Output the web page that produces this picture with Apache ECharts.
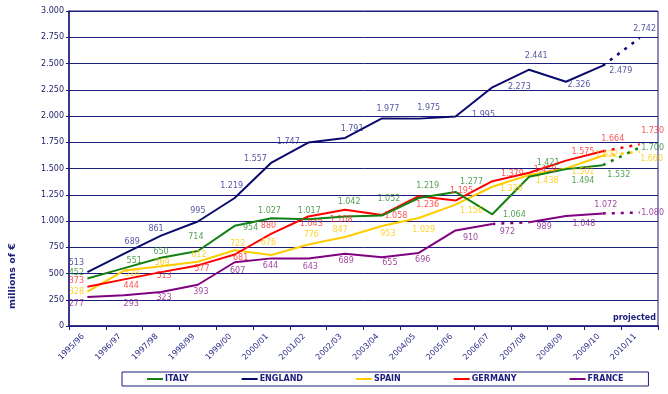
<!DOCTYPE html>
<html>
<head>
<meta charset="utf-8">
<script src="https://cdn.jsdelivr.net/npm/echarts@6/dist/echarts.min.js"></script>
<style>
html,body{margin:0;padding:0;background:#fff;}
#c{width:668px;height:394px;}
</style>
</head>
<body>
<div id="c"></div>
<script>
// ---- data ----
const categories = ['1995/96','1996/97','1997/98','1998/99','1999/00','2000/01','2001/02','2002/03','2003/04','2004/05','2005/06','2006/07','2007/08','2008/09','2009/10','2010/11'];
const italy   = [452,551,650,714,954,1027,1017,1042,1052,1219,1277,1064,1421,1494,1532,1700];
const england = [513,689,861,995,1219,1557,1747,1791,1977,1975,1995,2273,2441,2326,2479,2742];
const spain   = [328,528,569,612,722,676,776,847,953,1029,1156,1326,1438,1501,1622,1660];
const germany = [373,444,513,577,681,880,1043,1108,1058,1236,1195,1379,1459,1575,1664,1730];
const france  = [277,293,323,393,607,644,643,689,655,696,910,972,989,1048,1072,1080];
const seriesNames = ['ITALY','ENGLAND','SPAIN','GERMANY','FRANCE'];
// segments (start index) drawn dashed
const dashedStarts = {ITALY:[14], ENGLAND:[14], SPAIN:[14], GERMANY:[14], FRANCE:[11,14]};

// ---- styling ----
const NAVY = '#1c1c7c';
const lineColors = {ITALY:'#138013', ENGLAND:'#0a0a6e', SPAIN:'#ffcc00', GERMANY:'#ff0000', FRANCE:'#800080'};
const labelColors = {ITALY:'#2a8a2a', ENGLAND:'#2c2c8c', SPAIN:'#ffc800', GERMANY:'#ff2a2a', FRANCE:'#8a1a8a'};
const labelOffsets = {
  ENGLAND: [[-11,-9],[8,-12],[-5,-7],[0,-11],[-3,-12],[-16,-4],[-20,-1],[7,-9],[6,-9],[10,-11],[28,-2],[27,0],[7,-14],[13,3],[18,5],[5,-9]],
  ITALY:   [[-11,-6],[10,-7],[0,-6],[-2,-14],[16,2],[-2,-7],[1,-8],[4,-15],[7,-17],[9,-12],[16,-10],[22,1],[19,-14],[17,12],[16,10],[13,0]],
  GERMANY: [[-11,-6],[7,7],[3,4],[4,4],[6,3],[-3,-8],[3,7],[-4,10],[14,1],[9,9],[6,-10],[20,-7],[16,-3],[17,-9],[10,-12],[13,-13]],
  SPAIN:   [[-11,0],[8,3],[1,-3],[1,-7],[3,-6],[-3,-12],[3,-10],[-5,-7],[6,8],[5,12],[16,6],[19,2],[18,6],[17,4],[4,-1],[12,7]],
  FRANCE:  [[-11,7],[7,9],[3,6],[3,7],[3,9],[-1,8],[2,8],[1,7],[8,6],[4,7],[15,7],[15,8],[15,5],[18,8],[3,-9],[13,0]]
};
const valuesByName = {ITALY:italy, ENGLAND:england, SPAIN:spain, GERMANY:germany, FRANCE:france};

const fmt = v => String(v).replace(/\B(?=(\d{3})+(?!\d))/g, '.');
const FONT = 'DejaVu Sans';

function buildSeries(name) {
  const vals = valuesByName[name];
  const dashed = dashedStarts[name];
  const n = vals.length;
  const out = [];
  let runStart = null;
  const runs = [];
  for (let i = 0; i < n - 1; i++) {
    const solid = dashed.indexOf(i) < 0;
    if (solid && runStart === null) runStart = i;
    if (!solid && runStart !== null) { runs.push([runStart, i]); runStart = null; }
  }
  if (runStart !== null) runs.push([runStart, n - 1]);
  runs.forEach((r, k) => {
    out.push({
      name: k === 0 ? name : name + '_' + k,
      type: 'line',
      data: vals.map((v, i) => (i >= r[0] && i <= r[1]) ? v : '-'),
      symbol: 'none',
      lineStyle: {color: lineColors[name], width: 2},
      itemStyle: {color: lineColors[name]},
      connectNulls: false,
      silent: true,
      z: 2
    });
  });
  const dData = vals.map((v, i) => (dashed.indexOf(i) >= 0 || dashed.indexOf(i - 1) >= 0) ? v : '-');
  out.push({
    name: name + '_dash',
    type: 'line',
    data: dData,
    symbol: 'none',
    lineStyle: {color: lineColors[name], width: 2.5, type: [3, 6]},
    connectNulls: false,
    silent: true,
    z: 2
  });
  out.push({
    name: name + '_labels',
    type: 'scatter',
    data: vals.map((v, i) => ({value: v, label: {offset: labelOffsets[name][i]}})),
    symbolSize: 1,
    itemStyle: {color: 'rgba(0,0,0,0)'},
    silent: true,
    z: 5,
    label: {
      show: true,
      position: 'inside',
      formatter: p => fmt(p.value),
      color: labelColors[name],
      fontSize: 8,
      fontFamily: FONT
    }
  });
  return out;
}

const drawOrder = ['FRANCE','SPAIN','GERMANY','ITALY','ENGLAND'];
let series = [];
drawOrder.forEach(n => { series = series.concat(buildSeries(n)); });

const chart = echarts.init(document.getElementById('c'), null, {renderer: 'canvas'});
chart.setOption({
  backgroundColor: '#fff',
  animation: false,
  grid: {left: 69, right: 10, top: 11, bottom: 68, show: true, borderColor: NAVY, borderWidth: 1, backgroundColor: 'transparent'},
  xAxis: {
    type: 'category',
    data: categories,
    boundaryGap: true,
    axisLine: {lineStyle: {color: NAVY, width: 1.5}},
    axisTick: {show: true, length: 4, lineStyle: {color: NAVY}},
    axisLabel: {rotate: 45, margin: 5, color: '#2a2a8a', fontSize: 8, fontFamily: FONT, interval: 0, padding: [0, 6, 0, 0]}
  },
  yAxis: {
    type: 'value',
    min: 0, max: 3000, interval: 250,
    axisLine: {show: true, lineStyle: {color: NAVY, width: 1.5}},
    axisTick: {show: true, length: 3, lineStyle: {color: NAVY}},
    splitLine: {lineStyle: {color: NAVY, width: 1}},
    axisLabel: {formatter: v => fmt(v), color: '#1c1c6c', fontSize: 8, fontFamily: FONT, margin: 5}
  },
  legend: {
    data: seriesNames,
    left: 122, top: 372,
    orient: 'horizontal',
    itemGap: 53,
    itemWidth: 16, itemHeight: 2,
    icon: 'rect',
    padding: [3, 25, 3, 25],
    borderColor: NAVY, borderWidth: 1,
    textStyle: {color: NAVY, fontSize: 8, fontWeight: 'bold', fontFamily: FONT, padding: [0, 0, 0, -3]}
  },
  graphic: [
    {type: 'text', x: 13, y: 276, rotation: Math.PI / 2,
     style: {text: 'millions of €', fill: NAVY, font: 'bold 9.5px "DejaVu Sans"', textAlign: 'center', textVerticalAlign: 'middle'}},
    {type: 'text', right: 12, top: 314,
     style: {text: 'projected', fill: NAVY, font: 'bold 8px "DejaVu Sans"'}}
  ],
  series: series
});
</script>
</body>
</html>
